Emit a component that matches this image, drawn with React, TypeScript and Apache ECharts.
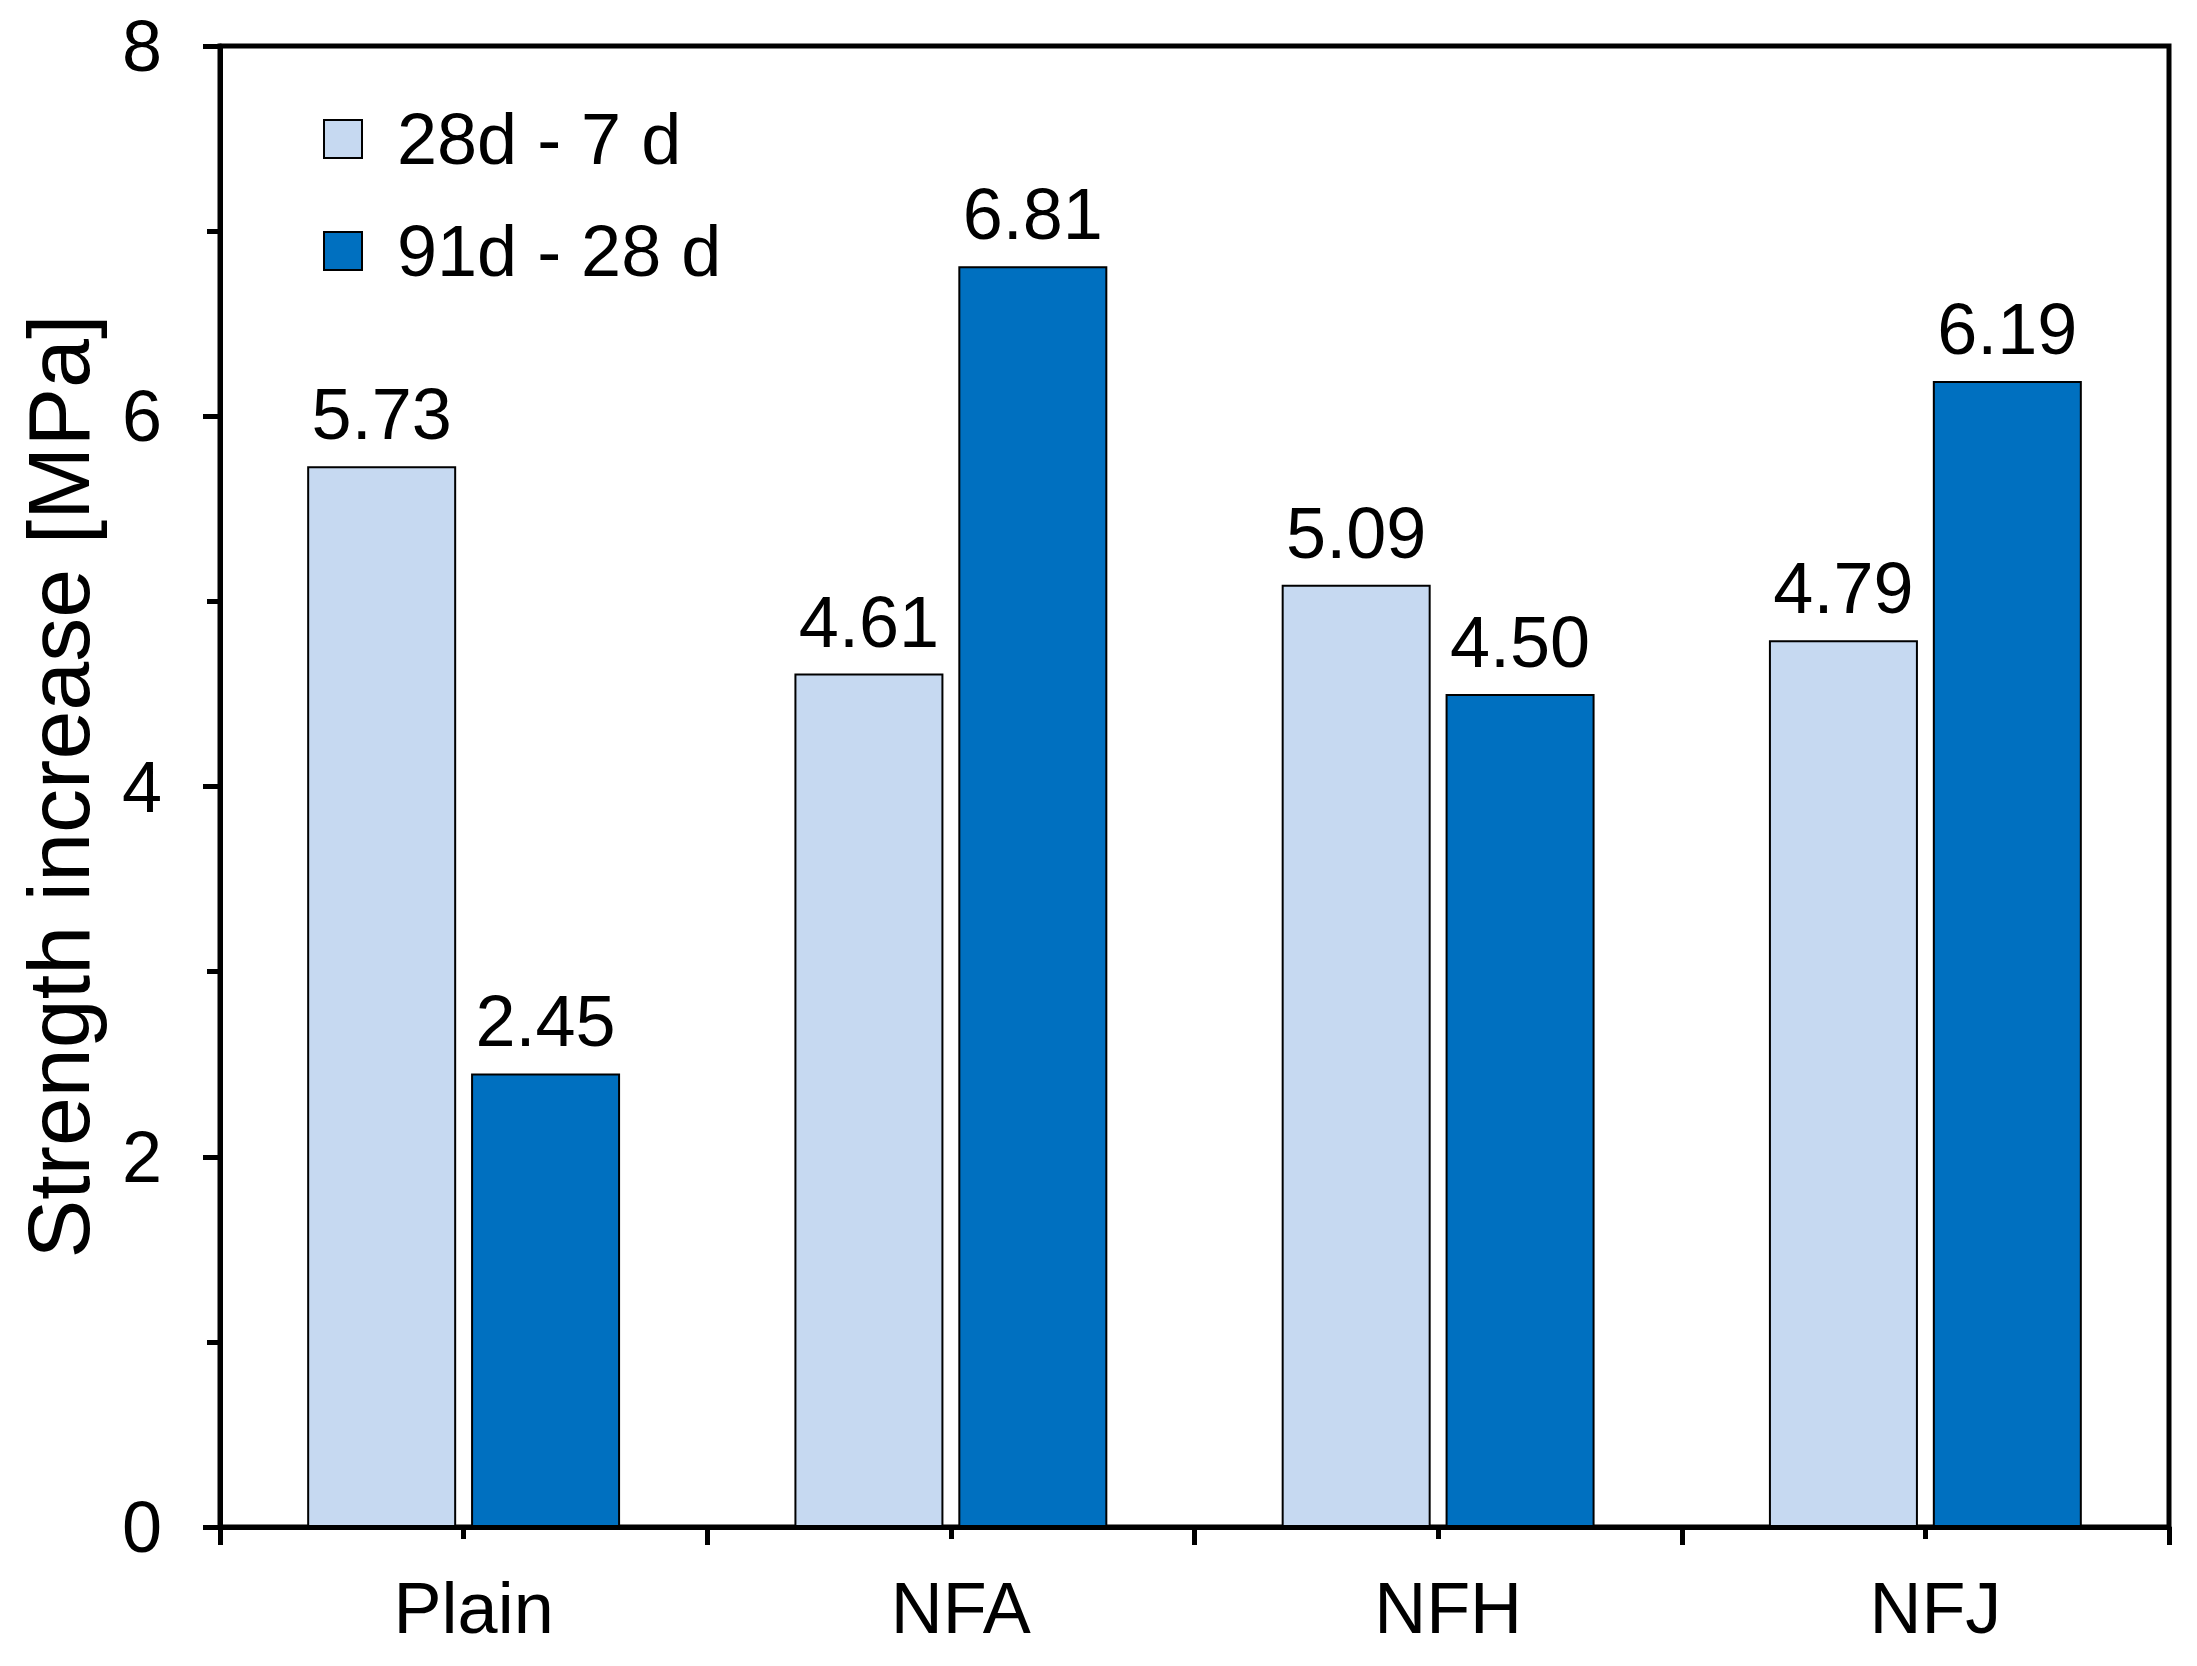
import React, { useEffect, useRef } from "react";
import * as echarts from "echarts";

const categories = ["Plain", "NFA", "NFH", "NFJ"];
const series1Name = "28d - 7 d";
const series2Name = "91d - 28 d";
const series1Values = [5.73, 4.61, 5.09, 4.79];
const series2Values = [2.45, 6.81, 4.5, 6.19];
const yAxisName = "Strength increase [MPa]";

const FONT = "'Liberation Sans', Arial, sans-serif";

export default function App() {
  const ref = useRef<HTMLDivElement>(null);
  useEffect(() => {
    document.body.style.margin = "0";
    const chart = echarts.init(ref.current!, null, { renderer: "svg" });
    const labelStyle = {
      show: true,
      position: "top" as const,
      distance: 16,
      fontSize: 72,
      color: "#000",
      fontFamily: FONT,
      formatter: (p: any) => Number(p.value).toFixed(2),
    };
    chart.setOption({
      animation: false,
      backgroundColor: "#fff",
      textStyle: { fontFamily: FONT },
      grid: {
        left: 220,
        right: 28,
        top: 46,
        bottom: 139,
        show: true,
        borderColor: "#000",
        borderWidth: 5,
        backgroundColor: "transparent",
      },
      legend: {
        orient: "vertical",
        left: 318,
        top: 98,
        itemWidth: 38,
        itemHeight: 38,
        itemGap: 40,
        icon: "rect",
        textStyle: { fontSize: 72, color: "#000", fontFamily: FONT, padding: [0, 0, 0, 30] },
        data: [series1Name, series2Name],
      },
      xAxis: [
        {
          type: "category",
          data: categories,
          position: "bottom",
          axisLine: { show: true, lineStyle: { color: "#000", width: 5 } },
          axisTick: { show: true, length: 18, lineStyle: { color: "#000", width: 5 } },
          axisLabel: { fontSize: 72, color: "#000", fontFamily: FONT, margin: 45, padding: [0, 0, 0, 20] },
          splitLine: { show: false },
        },
        {
          type: "category",
          data: categories,
          position: "bottom",
          axisLine: { show: false },
          axisTick: { show: true, alignWithLabel: true, length: 12, lineStyle: { color: "#000", width: 5 } },
          axisLabel: { show: false },
          splitLine: { show: false },
        },
      ],
      yAxis: {
        type: "value",
        min: 0,
        max: 8,
        interval: 2,
        name: yAxisName,
        nameLocation: "middle",
        nameRotate: 90,
        nameGap: 118,
        nameTextStyle: { fontSize: 88, color: "#000", fontFamily: FONT },
        axisLine: { show: true, lineStyle: { color: "#000", width: 5 } },
        axisTick: { show: true, length: 17, lineStyle: { color: "#000", width: 5 } },
        minorTick: { show: true, splitNumber: 2, length: 13, lineStyle: { color: "#000", width: 5 } },
        axisLabel: { fontSize: 72, color: "#000", fontFamily: FONT, margin: 58 },
        splitLine: { show: false },
      },
      series: [
        {
          name: series1Name,
          type: "bar",
          xAxisIndex: 0,
          data: series1Values,
          barWidth: 149,
          barGap: "10%",
          itemStyle: { color: "#C6D9F1", borderColor: "#000", borderWidth: 2 },
          label: labelStyle,
        },
        {
          name: series2Name,
          type: "bar",
          xAxisIndex: 0,
          data: series2Values,
          barWidth: 149,
          barGap: "10%",
          itemStyle: { color: "#0070C0", borderColor: "#000", borderWidth: 2 },
          label: labelStyle,
        },
      ],
    });
    return () => chart.dispose();
  }, []);
  return <div ref={ref} style={{ width: 2197, height: 1666 }} />;
}
